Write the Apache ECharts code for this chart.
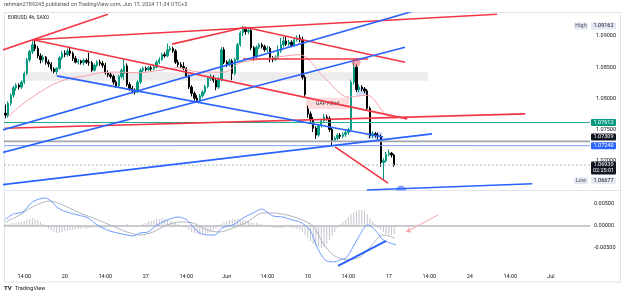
<!DOCTYPE html>
<html>
<head>
<meta charset="utf-8">
<script src="https://cdn.jsdelivr.net/npm/echarts/dist/echarts.min.js"></script>
<style>
  html, body { margin: 0; padding: 0; background: #fff; }
  #chart { width: 625px; height: 298px; }
</style>
</head>
<body>
<div id="chart"></div>
<script>
// --- data ---
const slotCount = 217;   // 4h slots shown, incl. empty space on the right
const tickLabels = [[7,'14:00'],[22,'20'],[37,'14:00'],[52,'27'],[67,'14:00'],[82,'Jun'],[97,'14:00'],
  [112,'10'],[127,'14:00'],[142,'17'],[157,'14:00'],[172,'24'],[187,'14:00'],[202,'Jul']];

// [open, close, low, high]
const candles = [
  [1.0776,1.0773,1.0768,1.0790],[1.0773,1.0792,1.0769,1.0795],[1.0792,1.0805,1.0788,1.0808],[1.0805,1.0817,1.0801,1.0820],
  [1.0817,1.0821,1.0812,1.0824],[1.0821,1.0818,1.0814,1.0824],[1.0818,1.0826,1.0815,1.0829],[1.0826,1.0840,1.0823,1.0843],
  [1.0840,1.0862,1.0837,1.0865],[1.0862,1.0875,1.0858,1.0878],[1.0875,1.0886,1.0871,1.0893],[1.0886,1.0880,1.0876,1.0895],
  [1.0880,1.0868,1.0864,1.0884],[1.0868,1.0862,1.0856,1.0872],[1.0862,1.0866,1.0858,1.0870],[1.0866,1.0858,1.0854,1.0868],
  [1.0858,1.0855,1.0850,1.0862],[1.0855,1.0847,1.0843,1.0858],[1.0847,1.0843,1.0840,1.0850],[1.0843,1.0848,1.0838,1.0850],
  [1.0848,1.0865,1.0846,1.0868],[1.0865,1.0872,1.0862,1.0876],[1.0872,1.0870,1.0866,1.0877],[1.0870,1.0876,1.0867,1.0880],
  [1.0876,1.0872,1.0868,1.0883],[1.0872,1.0864,1.0860,1.0875],[1.0864,1.0858,1.0856,1.0868],[1.0858,1.0860,1.0854,1.0863],
  [1.0860,1.0857,1.0854,1.0862],[1.0857,1.0861,1.0853,1.0864],[1.0861,1.0858,1.0855,1.0864],[1.0858,1.0857,1.0852,1.0873],
  [1.0857,1.0845,1.0842,1.0860],[1.0845,1.0853,1.0843,1.0856],[1.0853,1.0858,1.0850,1.0861],[1.0858,1.0856,1.0852,1.0862],
  [1.0856,1.0853,1.0849,1.0860],[1.0853,1.0841,1.0838,1.0857],[1.0841,1.0838,1.0834,1.0845],[1.0838,1.0835,1.0832,1.0842],
  [1.0835,1.0826,1.0822,1.0838],[1.0826,1.0820,1.0817,1.0829],[1.0820,1.0835,1.0818,1.0838],[1.0835,1.0845,1.0832,1.0848],
  [1.0840,1.0852,1.0830,1.0865],[1.0852,1.0822,1.0819,1.0856],[1.0822,1.0816,1.0812,1.0826],[1.0816,1.0812,1.0808,1.0820],
  [1.0812,1.0810,1.0806,1.0816],[1.0810,1.0826,1.0808,1.0829],[1.0826,1.0845,1.0823,1.0848],[1.0845,1.0848,1.0842,1.0851],
  [1.0848,1.0846,1.0843,1.0851],[1.0846,1.0849,1.0844,1.0852],[1.0849,1.0847,1.0844,1.0852],[1.0847,1.0850,1.0845,1.0853],
  [1.0850,1.0858,1.0848,1.0861],[1.0858,1.0862,1.0855,1.0866],[1.0862,1.0870,1.0860,1.0873],[1.0870,1.0868,1.0865,1.0874],
  [1.0868,1.0878,1.0866,1.0888],[1.0878,1.0880,1.0875,1.0884],[1.0880,1.0876,1.0873,1.0883],[1.0876,1.0858,1.0855,1.0879],
  [1.0858,1.0854,1.0850,1.0862],[1.0854,1.0851,1.0848,1.0858],[1.0851,1.0848,1.0845,1.0858],[1.0848,1.0836,1.0833,1.0850],
  [1.0836,1.0818,1.0815,1.0838],[1.0818,1.0808,1.0803,1.0821],[1.0808,1.0800,1.0796,1.0811],[1.0800,1.0797,1.0794,1.0805],
  [1.0797,1.0804,1.0794,1.0807],[1.0804,1.0810,1.0801,1.0813],[1.0810,1.0819,1.0807,1.0822],[1.0819,1.0832,1.0816,1.0835],
  [1.0832,1.0834,1.0828,1.0839],[1.0834,1.0829,1.0825,1.0837],[1.0829,1.0818,1.0813,1.0832],[1.0818,1.0830,1.0815,1.0834],
  [1.0830,1.0878,1.0827,1.0882],[1.0878,1.0858,1.0855,1.0882],[1.0858,1.0854,1.0850,1.0861],[1.0854,1.0860,1.0851,1.0864],
  [1.0860,1.0840,1.0829,1.0863],[1.0840,1.0862,1.0837,1.0865],[1.0862,1.0886,1.0859,1.0889],[1.0886,1.0905,1.0883,1.0908],
  [1.0905,1.0911,1.0900,1.0916],[1.0911,1.0907,1.0902,1.0914],[1.0907,1.0909,1.0903,1.0912],[1.0909,1.0881,1.0877,1.0911],
  [1.0881,1.0867,1.0860,1.0884],[1.0867,1.0882,1.0864,1.0885],[1.0882,1.0886,1.0879,1.0889],[1.0886,1.0883,1.0880,1.0889],
  [1.0883,1.0878,1.0875,1.0886],[1.0878,1.0880,1.0874,1.0884],[1.0880,1.0865,1.0858,1.0883],[1.0865,1.0862,1.0858,1.0868],
  [1.0862,1.0866,1.0860,1.0869],[1.0866,1.0876,1.0863,1.0885],[1.0876,1.0886,1.0873,1.0897],[1.0886,1.0892,1.0882,1.0899],
  [1.0892,1.0887,1.0884,1.0900],[1.0887,1.0890,1.0884,1.0894],[1.0890,1.0885,1.0882,1.0893],[1.0885,1.0894,1.0883,1.0897],
  [1.0894,1.0897,1.0891,1.0901],[1.0897,1.0894,1.0890,1.0902],[1.0894,1.0834,1.0830,1.0899],[1.0834,1.0806,1.0802,1.0837],
  [1.0783,1.0775,1.0769,1.0788],[1.0775,1.0766,1.0762,1.0779],[1.0766,1.0752,1.0746,1.0770],[1.0752,1.0741,1.0735,1.0755],
  [1.0741,1.0756,1.0738,1.0759],[1.0756,1.0764,1.0753,1.0767],[1.0764,1.0770,1.0760,1.0775],[1.0770,1.0768,1.0764,1.0774],
  [1.0768,1.0750,1.0746,1.0771],[1.0750,1.0733,1.0724,1.0753],[1.0733,1.0736,1.0730,1.0739],[1.0736,1.0741,1.0733,1.0744],
  [1.0741,1.0739,1.0735,1.0744],[1.0739,1.0742,1.0736,1.0745],[1.0742,1.0745,1.0738,1.0749],[1.0745,1.0750,1.0741,1.0753],
  [1.0750,1.0826,1.0746,1.0830],[1.0826,1.0850,1.0822,1.0858],[1.0850,1.0814,1.0810,1.0854],[1.0814,1.0818,1.0810,1.0822],
  [1.0818,1.0815,1.0811,1.0821],[1.0815,1.0812,1.0808,1.0818],[1.0812,1.0784,1.0780,1.0815],[1.0784,1.0740,1.0736,1.0787],
  [1.0740,1.0743,1.0736,1.0747],[1.0743,1.0741,1.0737,1.0746],[1.0741,1.0739,1.0734,1.0745],[1.0739,1.0697,1.0690,1.0742],
  [1.0697,1.0700,1.0668,1.0704],[1.0700,1.0710,1.0697,1.0714],[1.0710,1.0712,1.0707,1.0718],[1.0712,1.0709,1.0705,1.0714],
  [1.0709,1.0693,1.0690,1.0711]
];

// moving average (thin pink), [slot, price]
const maPoints = [[1,1.0770],[5,1.0786],[10,1.0802],[14,1.0813],[19,1.0825],[25,1.0833],[30,1.0836],[35,1.0841],
  [42,1.0842],[50,1.0841],[57,1.0845],[64,1.0849],[72,1.0842],[81,1.0842],[87,1.0857],[99,1.0865],[109,1.0870],
  [118,1.0834],[127,1.0802],[134,1.0805],[141,1.0773],[144,1.0768]];

// MACD pane
const macdPoints = [[0,0.00152],[3,0.00272],[6.5,0.00318],[10,0.00545],[14.7,0.00636],[16.5,0.00590],[19.5,0.00409],
  [22.8,0.00318],[26.9,0.00250],[30.6,0.00182],[34,0.00023],[37.6,-0.00091],[41.4,-0.00159],[45,-0.00204],[47.3,-0.00227],
  [49.9,-0.00159],[52.8,-0.00136],[56.2,0.00023],[59.9,0.00136],[64,0.00204],[67.3,0.00136],[69.5,-0.00023],[72.1,-0.00159],
  [74.7,-0.00204],[77.6,-0.00204],[80.2,-0.00045],[84.3,0.00023],[88,0.00182],[91.7,0.00295],[95,0.00386],[96.9,0.00318],
  [99.1,0.00227],[102.8,0.00204],[106.2,0.00136],[109.1,0.00091],[112.8,-0.00091],[115.4,-0.00477],[118.4,-0.00772],
  [121.4,-0.00817],[123.9,-0.00772],[126.5,-0.00704],[130.2,-0.00318],[134.3,0.00023],[136.9,-0.00091],[139.9,-0.00318],
  [142.5,-0.00386],[144.7,-0.00431]];
const signalPoints = [[0,0.00091],[5.4,0.00250],[10,0.00431],[16.5,0.00568],[21.3,0.00477],[27.6,0.00295],[32.5,0.00182],
  [38.8,0.00023],[45,-0.00136],[49.9,-0.00204],[54.7,-0.00136],[59.9,0.00023],[64.7,0.00091],[69.5,0.00068],[74.7,-0.00091],
  [79.5,-0.00136],[84.3,-0.00045],[89.5,0.00091],[95.4,0.00295],[99.1,0.00295],[104.3,0.00250],[109.1,0.00159],[113.9,0],
  [117.6,-0.00386],[121.4,-0.00658],[126.5,-0.00772],[131.4,-0.00704],[135.1,-0.00477],[139.9,-0.00204],[144.3,-0.00272]];
const histogram = [
  0.00045,0.00045,0.00068,0.00068, 0.00068,0.00091,0.00091,0.00114,0.00136,0.00159,0.00182, 0.00159,0.00136,0.00091,0.00045,
  -0.00023,-0.00068,-0.00114, -0.00136,-0.00159,-0.00159,-0.00136,-0.00114, -0.00114,-0.00091,-0.00091,-0.00068,-0.00068,-0.00068,
  -0.00045,-0.00068,-0.00045,-0.00045,-0.00023,
  -0.00023,-0.00045,-0.00045,-0.00045,-0.00023,-0.00023,-0.00023,0,0.00023,0.00023,0.00023,0.00045,
  0,-0.00023,-0.00023,0,
  0.00023,0.00045,0.00068,0.00091,0.00114,0.00136,0.00159,0.00159,0.00182,0.00159,0.00136,0.00114,0.00091,0.00068,0.00045,0.00023,
  -0.00023,-0.00045,
  -0.00091,-0.00136,-0.00159,-0.00182,-0.00204,-0.00204,-0.00182,-0.00159,-0.00136,-0.00091,-0.00068,-0.00023,
  0.00045,0.00091,0.00114,0.00136,0.00159,0.00159,0.00159,0.00136,0.00136,0.00114,0.00114,0.00091,0.00068,0.00068,0.00045,0.00045,0.00023,
  -0.00023,-0.00023,-0.00045,-0.00045,-0.00045,-0.00045,-0.00045,-0.00023,-0.00023,-0.00045,-0.00045,-0.00068,-0.00091,
  -0.00136,-0.00204,-0.00272,-0.00341,-0.00409,-0.00454,-0.00477,-0.00499,-0.00477,-0.00409,-0.00318,-0.00227,-0.00136,-0.00045,
  0.00045,0.00091,0.00136,0.00204,0.00272,0.00318,0.00341,0.00363,0.00363,0.00341,0.00272,0.00182,0.00114,0.00045,
  -0.00045,-0.00091,-0.00136,-0.00182,-0.00204,-0.00204,-0.00182
];

// drawings: [slotA, priceA, slotB, priceB]
const redLines = [[-2,1.0876,38,1.0935],[10.2,1.0894,182.1,1.0935],[10.2,1.0894,148.8,1.0767],[-0.1,1.0752,192.5,1.0775],
  [88.8,1.0914,148.0,1.0858],[88.0,1.0863,134.3,1.0863],[122.1,1.0722,141.7,1.0664],[61.7,1.0887,88.8,1.0914]];
const blueLines = [[19.1,1.0836,139.9,1.0738],[-2,1.0748,153.6,1.0943],[-2,1.0712,148.0,1.0882],[-2,1.0661,158.0,1.0743],
  [133.9,1.0653,195.1,1.0663]];
const greyZone = [7.3, 1.0842, 156.5, 1.0828];
const gapZone = [111.3, 1.0801, 127.3, 1.0783];
const blueBoxes = [[129.9,1.0817,133.6,1.0804],[134.0,1.0746,139.5,1.0735]];
const redDot = [129.9, 1.0858];
const blueDot = [146.5, 1.0656];
const macdTrend = [123.2,-0.00908,141.0,-0.0034];
const macdArrow = [160.2,0.0025,148.4,-0.00136];

const levelGreen = 1.07612, levelGrey = 1.07309, levelBlue = 1.07240, lastPrice = 1.06930;
const highPrice = 1.09162, lowPrice = 1.06677;
const countdown = '02:25:01';

// --- chart ---
const labelMap = Object.fromEntries(tickLabels);
const slots = [];
for (let i = 0; i < slotCount; i++) slots.push(String(i));

const FONT = 'Roboto';
const RED = '#f23645', BLUE = '#2962ff';
const X0 = -0.5, X1 = slotCount - 0.5;

const segSeries = (seg, lineStyle, xi, yi, z) => ({
  type: 'line', xAxisIndex: xi, yAxisIndex: yi, z: z || 4, silent: true,
  showSymbol: false, lineStyle,
  data: [[seg[0], seg[1]], [seg[2], seg[3]]]
});
const level = (p, lineStyle) => segSeries([X0, p, X1, p], lineStyle, 2, 0, 3);

const box = (b) => [{ coord: [b[0], b[1]] }, { coord: [b[2], b[3]] }];

const series = [
  {
    type: 'line', xAxisIndex: 2, yAxisIndex: 0, data: [], z: 1, silent: true,
    markArea: {
      silent: true,
      data: [
        [{ coord: [greyZone[0], greyZone[1]], itemStyle: { color: 'rgba(200,200,205,0.35)' } }, { coord: [greyZone[2], greyZone[3]] }],
        [{ coord: [gapZone[0], gapZone[1]], name: 'GAP Filled', itemStyle: { color: 'rgba(242,54,69,0.18)' },
           label: { show: true, position: 'inside', color: '#333', fontSize: 5, fontFamily: FONT } },
         { coord: [gapZone[2], gapZone[3]] }],
        ...blueBoxes.map(b => { const r = box(b); r[0].itemStyle = { color: 'rgba(41,98,255,0.2)' }; return r; })
      ]
    }
  },
  level(levelGreen, { color: '#22ab94', width: 1 }),
  level(levelGrey, { color: '#a3a6af', width: 1.6 }),
  level(levelBlue, { color: '#7b9cff', width: 1 }),
  level(lastPrice, { color: '#b2b5be', width: 1, type: [2, 2] }),
  {
    type: 'candlestick', xAxisIndex: 0, yAxisIndex: 0, data: candles, z: 2, barWidth: '70%',
    itemStyle: { color: '#089981', color0: '#000000', borderColor: '#089981', borderColor0: '#000000', borderWidth: 1 }
  },
  {
    type: 'line', xAxisIndex: 2, yAxisIndex: 0, data: maPoints, smooth: 0.3, showSymbol: false, z: 3,
    lineStyle: { color: '#f7a1a8', width: 1 }
  },
  ...redLines.map(s => segSeries(s, { color: RED, width: 1.6 }, 2, 0)),
  ...blueLines.map(s => segSeries(s, { color: BLUE, width: 1.6 }, 2, 0)),
  {
    type: 'scatter', xAxisIndex: 2, yAxisIndex: 0, z: 5, silent: true,
    data: [{ value: redDot, symbol: 'circle', symbolSize: 9, itemStyle: { color: 'rgba(242,54,69,0.55)' } },
           { value: blueDot, symbol: 'path://M0,10 A10,10 0 0,1 20,10 Z', symbolSize: [10, 5], itemStyle: { color: 'rgba(41,98,255,0.7)' } }]
  },
  {
    type: 'bar', xAxisIndex: 1, yAxisIndex: 1, data: histogram, barWidth: 1, z: 2,
    itemStyle: { color: '#c3c5cc' }
  },
  segSeries([X0, 0, X1, 0], { color: '#9598a1', width: 1 }, 3, 1, 1),
  {
    type: 'line', xAxisIndex: 3, yAxisIndex: 1, data: signalPoints, smooth: 0.3, showSymbol: false, z: 3,
    lineStyle: { color: '#b2b5be', width: 1 }
  },
  {
    type: 'line', xAxisIndex: 3, yAxisIndex: 1, data: macdPoints, smooth: 0.3, showSymbol: false, z: 4,
    lineStyle: { color: '#6f9bff', width: 1 }
  },
  segSeries(macdTrend, { color: BLUE, width: 2 }, 3, 1),
  {
    type: 'line', xAxisIndex: 3, yAxisIndex: 1, data: [], z: 5, silent: true,
    markLine: {
      silent: true, symbol: ['none', 'arrow'], symbolSize: 5, label: { show: false },
      lineStyle: { color: '#f7a1a8', width: 1, type: 'solid' },
      data: [[{ coord: [macdArrow[0], macdArrow[1]] }, { coord: [macdArrow[2], macdArrow[3]] }]]
    }
  }
];

const onTick = (v, step) => Math.abs(v / step - Math.round(v / step)) < 1e-6;

const option = {
  animation: false,
  backgroundColor: '#ffffff',
  grid: [
    { left: 4, right: 35, top: 13, bottom: 106.2 },
    { left: 4, right: 35, top: 190, bottom: 28 }
  ],
  xAxis: [
    { type: 'category', gridIndex: 0, data: slots, show: false },
    { type: 'category', gridIndex: 1, data: slots,
      axisLine: { show: false }, axisTick: { show: false }, splitLine: { show: false },
      axisLabel: { interval: (idx) => labelMap[idx] !== undefined, formatter: (v, idx) => labelMap[idx] || '',
        fontSize: 5.5, fontFamily: FONT, color: '#131722', margin: 4 } },
    { type: 'value', gridIndex: 0, min: X0, max: X1, show: false, position: 'top' },
    { type: 'value', gridIndex: 1, min: X0, max: X1, show: false, position: 'top' }
  ],
  yAxis: [
    { type: 'value', gridIndex: 0, position: 'right', min: 1.065, max: 1.09369, interval: 0.005,
      axisLine: { show: false }, axisTick: { show: false }, splitLine: { show: false },
      axisLabel: { showMaxLabel: false, margin: 6, fontSize: 5.5, fontFamily: FONT, color: '#131722',
        formatter: v => (onTick(v, 0.005) && v > 1.0675) ? v.toFixed(5) : '' } },
    { type: 'value', gridIndex: 1, position: 'right', min: -0.01, max: 0.00818, interval: 0.005,
      axisLine: { show: false }, axisTick: { show: false }, splitLine: { show: false },
      axisLabel: { showMaxLabel: false, margin: 4, fontSize: 5.5, fontFamily: FONT, color: '#131722',
        formatter: v => (onTick(v, 0.005) && v > -0.0075) ? v.toFixed(5) : '' } }
  ],
  series
};

const chart = echarts.init(document.getElementById('chart'));
chart.setOption(option);

// price tags on the right scale
const py = p => chart.convertToPixel({ yAxisIndex: 0 }, p);
const tag = (x, yc, w, h, lines, bg, fg) => ({
  type: 'group', silent: true, z: 100,
  children: [
    { type: 'rect', shape: { x, y: yc - h / 2, width: w, height: h, r: 1 }, style: { fill: bg } },
    ...lines.map((t, k) => ({ type: 'text', x: x + w / 2, y: yc - h / 2 + 3.6 + k * 6,
      style: { text: t, fill: fg, fontSize: 5.5, fontFamily: FONT, align: 'center', verticalAlign: 'middle' } }))
  ]
});

const graphic = [
  { type: 'rect', silent: true, shape: { x: 4.5, y: 12.5, width: 616, height: 269.5 }, style: { fill: 'none', stroke: '#e0e3eb', lineWidth: 1 } },
  { type: 'line', silent: true, shape: { x1: 4.5, y1: 190.5, x2: 620.5, y2: 190.5 }, style: { stroke: '#e0e3eb', lineWidth: 1 } },
  { type: 'text', left: 4, top: 2, silent: true,
    style: { text: 'rehman2789245 published on TradingView.com, Jun 17, 2024 11:34 UTC+5', fill: '#50535e', fontSize: 5.5, fontFamily: FONT } },
  { type: 'text', left: 8, top: 15, silent: true, style: { text: 'EURUSD, 4h, SAXO', fill: '#131722', fontSize: 5, fontFamily: FONT } },
  { type: 'text', left: 4, top: 285, silent: true, style: { text: 'TV', fill: '#131722', fontSize: 6, fontWeight: 'bold', fontFamily: FONT } },
  { type: 'text', left: 15, top: 285.5, silent: true, style: { text: 'TradingView', fill: '#131722', fontSize: 5.5, fontFamily: FONT } },
  tag(574, py(highPrice), 14, 7, ['High'], '#e3e8f3', '#50535e'),
  tag(591, py(highPrice), 25, 7, [highPrice.toFixed(5)], '#e3e8f3', '#131722'),
  tag(591, py(levelGreen), 25, 7, [levelGreen.toFixed(5)], '#089981', '#ffffff'),
  tag(591, py(levelGrey) - 4.4, 25, 7, [levelGrey.toFixed(5)], '#131722', '#ffffff'),
  tag(591, py(levelBlue), 25, 7, [levelBlue.toFixed(5)], '#2962ff', '#ffffff'),
  tag(591, py(lastPrice) + 3, 25, 13, [lastPrice.toFixed(5), countdown], '#131722', '#ffffff'),
  tag(574, py(lowPrice), 14, 7, ['Low'], '#e3e8f3', '#50535e'),
  tag(591, py(lowPrice), 25, 7, [lowPrice.toFixed(5)], '#e3e8f3', '#131722')
];
chart.setOption({ graphic });
</script>
</body>
</html>
